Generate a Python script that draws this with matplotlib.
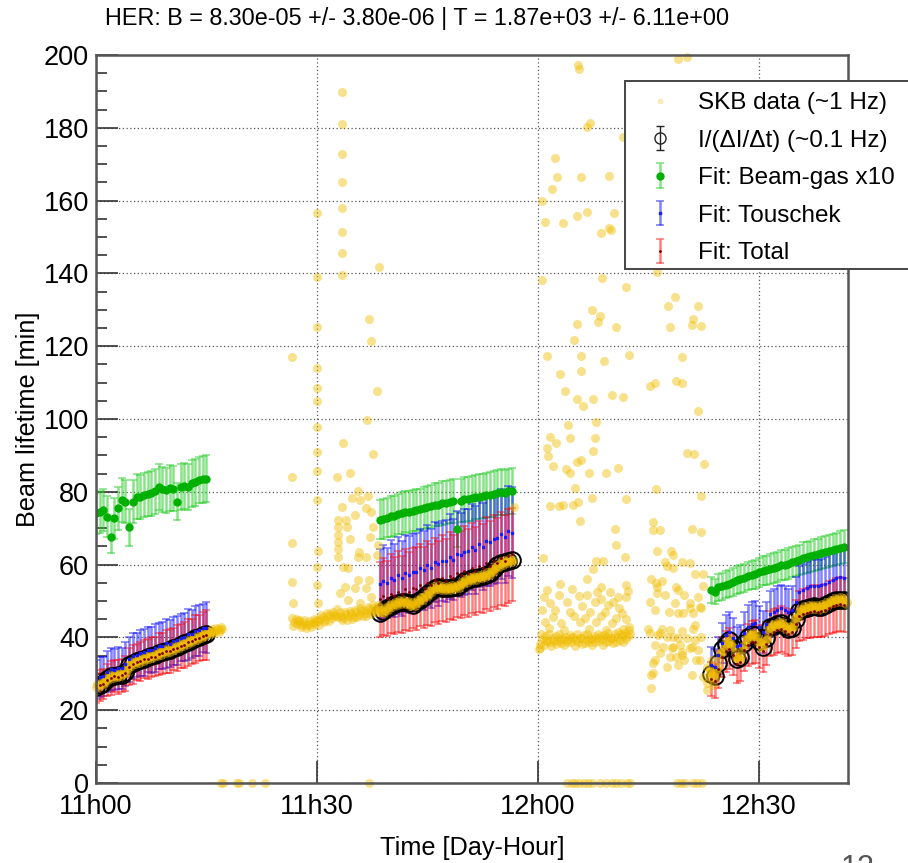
import numpy as np
import matplotlib
matplotlib.use("Agg")
import matplotlib.pyplot as plt
from matplotlib.ticker import MultipleLocator, FixedLocator
from matplotlib.lines import Line2D
from matplotlib.patches import Rectangle

plt.rcParams["font.family"] = ["Liberation Sans", "DejaVu Sans"]

# --- AXIS LABELS (time in minutes after 11h00) ---
tick_minutes = [0, 30, 60, 90]
tick_labels = ["11h00", "11h30", "12h00", "12h30"]
title = "HER: B = 8.30e-05 +/- 3.80e-06 | T = 1.87e+03 +/- 6.11e+00"

# --- FIT POINTS (three injection-free runs) ---
fit_time = [
    0.0, 0.5, 1.0, 1.5, 2.0, 2.5, 3.0, 3.5, 4.0, 4.5, 5.0, 5.5, 6.0, 6.5, 7.0, 7.5,
    8.0, 8.5, 9.0, 9.5, 10.0, 10.5, 11.0, 11.5, 12.0, 12.5, 13.0, 13.5, 14.0, 14.5, 15.0,
    38.5, 39.0, 39.5, 40.0, 40.5, 41.0, 41.5, 42.0, 42.5, 43.0, 43.5, 44.0, 44.5,
    45.0, 45.5, 46.0, 46.5, 47.0, 47.5, 48.0, 48.5, 49.0, 49.5, 50.0, 50.5, 51.0,
    51.5, 52.0, 52.5, 53.0, 53.5, 54.0, 54.5, 55.0, 55.5, 56.0, 56.5,
    83.5, 84.0, 84.5, 85.0, 85.5, 86.0, 86.5, 87.0, 87.5, 88.0, 88.5, 89.0, 89.5,
    90.0, 90.5, 91.0, 91.5, 92.0, 92.5, 93.0, 93.5, 94.0, 94.5, 95.0, 95.5, 96.0,
    96.5, 97.0, 97.5, 98.0, 98.5, 99.0, 99.5, 100.0, 100.5, 101.0, 101.5,
]

# I/(dI/dt) lifetime
decay_life = [
    26.5, 27.0, 27.6, 28.5, 29.3, 29.5, 29.6, 29.8, 30.6, 32.3, 33.0, 33.4, 33.8, 34.2, 34.5,
    34.8, 35.1, 35.6, 36.0, 36.4, 36.6, 37.1, 37.5, 37.9, 38.4, 38.8, 39.3, 39.7, 40.2, 40.6, 41.0,
    46.8, 47.2, 48.0, 48.6, 49.2, 49.5, 49.7, 49.8, 49.4, 48.9, 49.6, 50.3, 51.0, 51.8, 52.8,
    53.7, 53.9, 53.6, 53.5, 53.6, 53.8, 53.9, 54.6, 55.4, 55.9, 56.2, 56.4, 56.6, 56.9, 57.1,
    57.8, 58.7, 59.8, 60.4, 60.8, 61.1, 61.3,
    30.0, 29.4, 33.0, 36.8, 38.3, 39.3, 37.0, 34.2, 34.5, 38.5, 40.0, 40.8, 40.6, 39.0, 37.4,
    39.8, 42.9, 43.2, 43.6, 43.9, 43.2, 42.2, 42.6, 45.0, 47.3, 47.8, 48.1, 48.4, 48.5, 48.3,
    48.4, 48.9, 49.5, 50.0, 50.3, 50.4, 50.3,
]

beamgas_x10 = [
    74.1, 74.5, 75.0, 73.2, 67.7, 72.7, 75.5, 77.7, 77.3, 70.2, 77.3, 78.7, 78.5, 79.1, 79.4,
    79.6, 80.2, 81.4, 80.7, 80.4, 81.0, 80.8, 77.3, 81.4, 81.6, 81.4, 82.3, 82.6, 83.2, 83.4, 83.6,
    72.3, 72.6, 72.9, 73.3, 73.4, 73.9, 74.2, 74.5, 74.4, 74.8, 75.1, 75.2, 75.6, 75.9, 76.0,
    76.4, 76.5, 76.9, 77.0, 77.3, 77.4, 69.7, 77.6, 77.9, 78.0, 78.2, 78.5, 78.6, 78.8, 79.1,
    79.2, 79.5, 79.7, 79.9, 79.8, 80.1, 80.2,
    53.0, 52.6, 53.8, 54.0, 54.5, 54.8, 55.2, 55.8, 56.1, 56.4, 56.8, 57.1, 57.4, 57.9, 58.3,
    58.4, 58.8, 59.1, 59.3, 59.8, 59.9, 60.3, 60.7, 61.0, 61.3, 61.8, 62.0, 62.3, 62.6, 62.8,
    63.2, 63.4, 63.7, 64.0, 64.3, 64.6, 64.9,
]
beamgas_err = [
    5.6, 5.8, 5.9, 5.7, 4.4, 5.6, 5.9, 6.0, 6.0, 5.0, 6.0, 6.1, 6.0, 6.1, 6.1,
    6.2, 6.2, 6.3, 6.2, 6.2, 6.3, 6.2, 5.1, 6.3, 6.3, 6.3, 6.4, 6.4, 6.4, 6.5, 6.5,
    5.4, 5.5, 5.4, 5.6, 5.5, 5.6, 5.7, 5.6, 5.7, 5.7, 5.8, 5.7, 5.8, 5.8, 5.9,
    5.9, 5.8, 6.0, 5.9, 6.0, 6.0, 4.8, 6.0, 6.1, 6.0, 6.1, 6.1, 6.2, 6.1, 6.2,
    6.2, 6.3, 6.2, 6.3, 6.3, 6.3, 6.4,
    3.6, 3.5, 3.7, 3.7, 3.7, 3.8, 3.8, 3.8, 3.9, 3.9, 3.9, 3.9, 4.0, 4.0, 4.0,
    4.0, 4.1, 4.1, 4.1, 4.1, 4.1, 4.2, 4.2, 4.2, 4.2, 4.3, 4.3, 4.3, 4.3, 4.3,
    4.4, 4.4, 4.4, 4.4, 4.5, 4.5, 4.5,
]

touschek = [
    28.4, 29.1, 29.3, 30.6, 31.2, 31.1, 31.6, 31.5, 32.7, 34.0, 34.9, 35.1, 35.8, 35.9, 36.6,
    36.5, 37.0, 37.6, 37.7, 38.4, 38.3, 39.1, 39.2, 39.9, 40.1, 40.8, 41.0, 41.7, 41.9, 42.6, 42.7,
    54.6, 55.4, 54.9, 56.3, 55.7, 57.1, 56.2, 57.6, 57.2, 58.0, 57.9, 59.1, 58.4, 59.8, 59.0,
    60.6, 60.1, 61.0, 60.9, 62.2, 61.4, 63.0, 62.7, 63.5, 63.6, 64.8, 64.0, 65.7, 64.9, 66.5,
    66.2, 67.0, 67.2, 68.4, 67.6, 69.3, 68.7,
    32.5, 32.0, 35.1, 38.5, 40.6, 41.4, 39.8, 37.6, 38.0, 41.3, 42.9, 43.8, 43.9, 42.8, 41.5,
    43.6, 46.4, 47.0, 47.6, 48.0, 47.6, 46.9, 47.5, 49.8, 52.4, 53.1, 53.6, 54.0, 54.2, 54.1,
    54.3, 54.8, 55.3, 55.9, 56.2, 56.5, 56.4,
]
touschek_err = [
    5.3, 5.5, 5.4, 5.7, 5.9, 5.6, 5.8, 5.7, 6.0, 6.2, 6.4, 6.1, 6.3, 6.5, 6.2,
    6.4, 6.6, 6.3, 6.5, 6.7, 6.4, 6.6, 6.8, 6.5, 6.7, 6.9, 6.6, 6.8, 7.0, 6.7, 6.9,
    9.8, 10.1, 9.7, 10.4, 10.0, 10.6, 10.2, 10.5, 10.6, 10.3, 10.9, 10.7, 10.8, 11.2, 10.8,
    11.0, 11.4, 11.1, 11.3, 11.6, 11.2, 11.7, 11.5, 11.9, 11.6, 11.8, 12.1, 11.9, 12.0, 12.3,
    12.0, 12.4, 12.2, 12.3, 12.6, 12.4, 12.5,
    4.8, 4.7, 5.1, 5.4, 5.6, 5.7, 5.5, 5.3, 5.3, 5.7, 5.9, 6.0, 6.0, 5.9, 5.8,
    6.0, 6.3, 6.4, 6.5, 6.5, 6.5, 6.4, 6.5, 6.8, 7.1, 7.2, 7.2, 7.3, 7.3, 7.3,
    7.3, 7.4, 7.5, 7.5, 7.6, 7.6, 7.6,
]

total = [
    26.1, 26.8, 27.2, 28.3, 28.9, 29.3, 29.2, 29.6, 30.2, 32.0, 32.6, 33.2, 33.4, 34.0, 34.1,
    34.6, 34.7, 35.4, 35.6, 36.2, 36.2, 36.9, 37.1, 37.7, 38.0, 38.6, 38.9, 39.5, 39.8, 40.4, 40.6,
    50.5, 51.3, 50.7, 52.0, 51.5, 52.6, 51.9, 53.2, 52.6, 53.5, 53.4, 54.4, 53.7, 55.0, 54.3,
    55.7, 55.0, 56.3, 55.6, 57.0, 56.4, 57.6, 57.2, 58.3, 57.7, 59.0, 58.3, 59.6, 59.0, 60.4,
    59.7, 61.0, 60.4, 61.7, 61.1, 62.4, 62.8,
    28.6, 28.0, 31.2, 34.6, 36.2, 36.9, 35.2, 32.8, 33.3, 36.5, 38.0, 38.7, 38.8, 37.5, 36.3,
    38.3, 41.0, 41.5, 41.9, 42.3, 41.8, 41.0, 41.5, 43.6, 45.8, 46.3, 46.7, 47.0, 47.2, 47.1,
    47.3, 47.6, 48.1, 48.6, 48.9, 49.1, 49.0,
]
total_err = [
    4.1, 4.3, 4.2, 4.5, 4.6, 4.4, 4.7, 4.6, 4.8, 5.1, 5.3, 5.0, 5.4, 5.2, 5.5,
    5.6, 5.4, 5.8, 5.6, 5.9, 6.0, 5.8, 6.2, 6.0, 6.3, 6.4, 6.2, 6.6, 6.4, 6.7, 6.8,
    10.3, 10.6, 10.2, 10.8, 10.5, 11.0, 10.6, 11.1, 10.9, 11.0, 11.3, 11.2, 11.1, 11.5, 11.3,
    11.6, 11.4, 11.8, 11.5, 11.9, 11.7, 12.1, 11.9, 12.2, 12.0, 12.3, 12.1, 12.5, 12.2, 12.6,
    12.4, 12.7, 12.5, 12.8, 12.6, 12.9, 12.8,
    4.7, 4.6, 5.0, 5.4, 5.6, 5.7, 5.5, 5.2, 5.3, 5.6, 5.8, 5.9, 5.9, 5.8, 5.7,
    5.9, 6.2, 6.3, 6.3, 6.4, 6.3, 6.2, 6.3, 6.6, 6.9, 7.0, 7.0, 7.1, 7.1, 7.1,
    7.1, 7.2, 7.3, 7.3, 7.4, 7.4, 7.4,
]

# --- SKB 1 Hz lifetime readings ---
skb_time_run1 = [
    0.0, 0.3, 0.6, 0.9, 1.2, 1.5, 1.8, 2.1, 2.4, 2.7,
    3.0, 3.3, 3.6, 3.9, 4.2, 4.5, 4.8, 5.1, 5.4, 5.7,
    6.0, 6.3, 6.6, 6.9, 7.2, 7.5, 7.8, 8.1, 8.4, 8.7,
    9.0, 9.3, 9.6, 9.9, 10.2, 10.5, 10.8, 11.1, 11.4, 11.7,
    12.0, 12.3, 12.6, 12.9, 13.2, 13.5, 13.8, 14.1, 14.4, 14.7,
    15.0, 15.3, 15.6, 15.9, 16.2, 16.5, 16.8, 17.1,
    0.15, 0.45, 0.75, 1.05, 1.35, 1.65, 1.95, 2.25, 2.55, 2.85,
    3.15, 3.45, 3.75, 4.05, 4.35, 4.65, 4.95, 5.25, 5.55, 5.85,
    6.15, 6.45, 6.75, 7.05, 7.35, 7.65, 7.95, 8.25, 8.55, 8.85,
    9.15, 9.45, 9.75, 10.05, 10.35, 10.65, 10.95, 11.25, 11.55, 11.85,
    12.15, 12.45, 12.75, 13.05, 13.35, 13.65, 13.95, 14.25, 14.55, 14.85,
    15.15, 15.45, 15.75, 16.05, 16.35, 16.65, 16.95,
]
skb_life_run1 = [
    26.3, 26.9, 27.1, 27.6, 27.9, 28.7, 29.0, 29.5, 29.4, 29.7,
    29.5, 29.9, 29.9, 30.5, 31.3, 32.4, 32.7, 33.2, 33.3, 33.7,
    33.7, 34.1, 34.2, 34.6, 34.5, 34.9, 34.9, 35.3, 35.4, 35.9,
    35.9, 36.3, 36.4, 36.7, 36.7, 37.2, 37.2, 37.7, 37.7, 38.2,
    38.3, 38.7, 38.8, 39.3, 39.4, 39.8, 39.9, 40.4, 40.4, 40.9,
    40.9, 41.4, 41.4, 41.8, 41.8, 42.2, 42.1, 42.4,
    27.2, 26.4, 28.0, 27.2, 28.9, 28.3, 29.9, 28.9, 30.2, 29.0,
    30.3, 29.3, 30.8, 30.3, 32.5, 32.0, 33.6, 32.7, 34.1, 33.1,
    34.5, 33.6, 35.0, 34.0, 35.3, 34.3, 35.7, 34.8, 36.3, 35.3,
    36.7, 35.8, 37.2, 36.1, 37.6, 36.6, 38.1, 37.1, 38.6, 37.6,
    39.1, 38.2, 39.7, 38.8, 40.2, 39.3, 40.8, 39.8, 41.3, 40.3,
    41.8, 40.8, 42.2, 41.2, 42.6, 41.6, 42.9,
]

skb_time_gap1 = [
    17.0, 17.2, 19.2, 19.4, 21.2, 22.9,
    26.6, 26.6, 26.6, 26.6, 26.8, 30.0, 30.0, 30.0, 30.0, 30.0,
    30.0, 30.0, 30.0, 30.0, 30.0, 30.2, 30.0, 30.0, 30.2, 33.4,
    33.4, 33.4, 33.4, 33.4, 33.4, 33.4, 33.4, 38.4, 37.1, 37.3,
    38.1, 36.8, 33.5, 37.6, 32.7, 34.5, 35.6, 34.8, 35.9, 36.9,
    36.7, 33.4, 35.2, 37.4, 32.9, 32.9, 32.9, 32.9, 32.9, 32.9,
    34.0, 34.1, 37.6, 37.2, 34.5, 38.3, 35.7, 35.6, 36.7, 38.1,
    33.6, 34.2, 33.8, 35.6, 37.0, 35.2, 33.1, 36.7, 34.2, 37.4,
    35.8, 37.1, 56.7,
    26.6, 26.9, 27.3, 27.6, 28.0, 28.3, 28.7, 29.0, 29.4, 29.7,
    30.1, 30.4, 30.8, 31.1, 31.5, 31.8, 32.2, 32.5, 32.9, 33.2,
    33.6, 33.9, 34.3, 34.6, 35.0, 35.3, 35.7, 36.0, 36.4, 36.7,
    37.1, 37.4, 37.8, 38.1, 38.4,
    26.8, 27.1, 27.5, 27.8, 28.2, 28.5, 28.9, 29.2, 29.6, 29.9,
    30.3, 30.6, 31.0, 31.3, 31.7, 32.0, 32.4, 32.7, 33.1, 33.4,
    33.8, 34.1, 34.5, 34.8, 35.2, 35.5, 35.9, 36.2, 36.6, 36.9,
    37.3, 37.6, 38.0, 38.3,
]
skb_life_gap1 = [
    0.0, 0.0, 0.0, 0.0, 0.0, 0.0,
    116.9, 84.0, 65.8, 55.1, 49.4, 156.7, 138.9, 125.2, 114.1, 108.4,
    104.9, 97.7, 91.0, 85.8, 77.7, 63.8, 59.4, 54.4, 49.4, 189.9,
    181.0, 172.8, 165.2, 158.1, 151.4, 145.5, 139.6, 141.8, 127.6, 121.5,
    107.8, 99.7, 93.3, 90.4, 84.2, 85.1, 80.3, 78.2, 77.7, 78.8,
    75.5, 75.7, 73.6, 74.5, 72.3, 70.3, 68.2, 66.2, 64.2, 62.2,
    72.3, 70.4, 70.4, 67.7, 66.9, 65.4, 63.5, 62.0, 62.0, 62.6,
    59.4, 59.0, 53.9, 55.8, 55.8, 53.5, 52.1, 53.5, 50.3, 51.2,
    49.4, 0.0, 75.9,
    45.2, 44.3, 43.6, 44.6, 43.4, 44.0, 43.3, 43.8, 44.2, 43.6,
    44.5, 45.0, 45.5, 44.8, 45.9, 46.4, 47.0, 46.2, 45.6, 46.0,
    45.4, 46.3, 45.8, 46.6, 45.7, 46.9, 46.2, 47.3, 47.6, 46.8,
    47.9, 47.2, 48.0, 47.5, 48.3,
    43.1, 45.0, 44.9, 42.9, 44.8, 42.7, 44.5, 42.9, 45.1, 44.9,
    43.3, 46.1, 44.2, 46.6, 44.6, 45.3, 45.8, 47.8, 46.9, 44.9,
    47.0, 44.8, 47.3, 45.1, 47.5, 45.5, 48.0, 46.0, 45.9, 48.4,
    46.5, 48.9, 46.9, 49.0,
]

skb_time_run2 = [
    38.6, 38.9, 39.2, 39.5, 39.8, 40.1, 40.4, 40.7, 41.0, 41.3,
    41.6, 41.9, 42.2, 42.5, 42.8, 43.1, 43.4, 43.7, 44.0, 44.3,
    44.6, 44.9, 45.2, 45.5, 45.8, 46.1, 46.4, 46.7, 47.0, 47.3,
    47.6, 47.9, 48.2, 48.5, 48.8, 49.1, 49.4, 49.7, 50.0, 50.3,
    50.6, 50.9, 51.2, 51.5, 51.8, 52.1, 52.4, 52.7, 53.0, 53.3,
    53.6, 53.9, 54.2, 54.5, 54.8, 55.1, 55.4, 55.7, 56.0, 56.3,
    56.6,
    38.75, 39.05, 39.35, 39.65, 39.95, 40.25, 40.55, 40.85, 41.15, 41.45,
    41.75, 42.05, 42.35, 42.65, 42.95, 43.25, 43.55, 43.85, 44.15, 44.45,
    44.75, 45.05, 45.35, 45.65, 45.95, 46.25, 46.55, 46.85, 47.15, 47.45,
    47.75, 48.05, 48.35, 48.65, 48.95, 49.25, 49.55, 49.85, 50.15, 50.45,
    50.75, 51.05, 51.35, 51.65, 51.95, 52.25, 52.55, 52.85, 53.15, 53.45,
    53.75, 54.05, 54.35, 54.65, 54.95, 55.25, 55.55, 55.85, 56.15, 56.45,
]
skb_life_run2 = [
    46.9, 47.1, 47.6, 48.1, 48.3, 48.8, 49.1, 49.3, 49.6, 49.6,
    49.8, 49.7, 49.6, 49.3, 49.0, 49.0, 49.4, 49.9, 50.4, 50.7,
    51.2, 51.6, 52.2, 52.9, 53.4, 53.8, 53.9, 53.7, 53.5, 53.6,
    53.4, 53.7, 53.6, 53.9, 53.8, 54.1, 54.5, 55.0, 55.3, 55.8,
    55.9, 56.2, 56.3, 56.5, 56.5, 56.7, 56.8, 57.0, 57.1, 57.5,
    58.0, 58.6, 59.2, 59.7, 60.2, 60.5, 60.7, 60.9, 61.1, 61.2,
    61.4,
    47.6, 46.7, 48.4, 47.6, 49.2, 48.3, 49.8, 48.8, 50.2, 49.1,
    50.3, 49.1, 50.0, 48.6, 49.6, 48.6, 50.2, 49.6, 51.1, 50.4,
    52.0, 51.3, 53.1, 52.6, 54.2, 53.3, 54.4, 53.0, 54.1, 52.9,
    54.1, 53.1, 54.3, 53.3, 54.5, 53.7, 55.3, 54.6, 56.1, 55.3,
    56.6, 55.7, 57.0, 55.9, 57.2, 56.2, 57.5, 56.5, 57.9, 57.2,
    58.9, 58.3, 60.0, 59.4, 60.9, 60.0, 61.4, 60.4, 61.7, 60.7,
]

skb_time_gap2 = [
    60.2, 60.3,
    60.3, 60.6, 61.0, 61.3, 61.7, 62.0, 62.4, 62.7, 63.1, 63.4,
    63.8, 64.1, 64.5, 64.8, 65.2, 65.5, 65.9, 66.2, 66.6, 66.9,
    67.3, 67.6, 68.0, 68.3, 68.7, 69.0, 69.4, 69.7, 70.1, 70.4,
    70.8, 71.1, 71.5, 71.8, 72.2, 72.5,
    60.4, 60.8, 61.1, 61.5, 61.8, 62.2, 62.5, 62.9, 63.2, 63.6,
    63.9, 64.3, 64.6, 65.0, 65.3, 65.7, 66.0, 66.4, 66.7, 67.1,
    67.4, 67.8, 68.1, 68.5, 68.8, 69.2, 69.5, 69.9, 70.2, 70.6,
    70.9, 71.3, 71.6, 72.0, 72.3,
    65.5, 65.6, 67.1, 66.6, 79.0, 80.2, 62.3, 62.6, 65.8, 61.9,
    69.6, 71.5, 60.6, 61.0, 63.4, 65.3, 66.7, 70.3, 68.5, 69.6,
    69.9, 60.5, 68.7, 72.0, 78.6, 77.7, 81.7, 67.3, 68.4, 68.2,
    81.1, 65.3, 70.6, 77.9, 80.9, 82.1, 64.9, 61.3, 65.8, 69.0,
    72.4, 79.5, 63.0, 65.9, 63.7, 75.2, 75.9, 78.8, 79.5, 65.3,
    67.5, 66.1, 70.0, 71.5, 81.8, 64.1, 67.9, 61.6, 64.3, 67.7,
    76.1, 62.4, 61.2, 61.4, 67.5, 80.2, 81.2, 82.5, 62.0, 65.3,
    65.8, 63.8, 64.3, 67.0, 69.2, 70.9, 65.0, 76.0, 67.4, 71.9,
    82.1, 61.7, 62.8, 63.4, 64.7, 65.5, 65.7, 75.6, 75.6, 76.6,
    80.9, 82.2, 70.5, 70.6, 76.2, 78.1, 71.8, 60.7, 67.9, 68.9,
    77.2, 78.4, 79.5, 80.6, 77.5, 78.4, 67.5, 81.3, 82.4, 66.7,
    75.4, 76.0, 76.9, 68.6, 71.9, 78.8, 82.4, 60.8, 62.9, 65.6,
    66.6, 68.6, 69.8, 70.9, 72.0, 76.1, 77.2, 79.0, 79.9, 81.8,
    61.6, 63.9, 67.7, 70.2, 75.2, 78.6, 80.6, 60.5, 62.3, 64.3,
    67.1, 69.1, 71.4, 75.9, 77.8, 79.7, 82.2, 60.9, 63.2, 65.7,
    67.9, 70.0, 71.9, 81.3, 61.2, 63.0, 64.6, 66.0, 68.0, 69.5,
    71.0, 72.2, 62.0, 64.9, 66.4, 68.6, 70.6, 72.3, 61.5, 63.6,
    66.9, 69.3, 71.6, 76.1, 82.0, 80.6, 79.0, 81.1, 75.2, 76.6,
    78.4, 80.2, 82.2, 75.9, 77.0, 78.2, 79.3, 80.9, 76.6, 77.9,
    79.5, 81.8, 75.6, 77.5, 79.0, 80.9, 75.4, 75.4, 82.9, 83.3,
    83.6, 76.3, 75.9, 75.6, 78.8, 79.8, 81.5, 78.4, 79.5, 80.6,
    82.0, 82.4, 82.9, 83.3, 77.5, 79.0, 81.3, 75.0, 76.8, 78.0,
    79.6, 81.0, 83.0, 83.8,
    63.9, 64.6, 65.1, 65.6, 66.3, 66.8, 67.4, 68.4, 69.3, 70.0,
    70.6, 71.3, 72.1, 72.5, 78.9, 79.4, 80.0, 81.0, 81.6, 82.3,
]
skb_life_gap2 = [
    36.8, 37.2,
    38.2, 39.6, 40.3, 39.1, 38.6, 39.8, 40.5, 39.0, 38.4, 39.5,
    40.2, 39.3, 38.8, 40.0, 39.4, 38.6, 39.9, 40.6, 39.2, 38.7,
    39.6, 40.4, 39.8, 38.9, 39.5, 40.7, 40.1, 39.0, 39.7, 40.9,
    40.2, 39.4, 40.3, 41.2, 40.5, 40.8,
    40.9, 37.9, 39.0, 40.8, 37.6, 38.9, 38.1, 40.9, 39.8, 37.8,
    38.6, 40.7, 39.9, 37.7, 40.9, 39.7, 38.1, 38.4, 40.8, 39.8,
    37.9, 38.6, 41.0, 40.3, 37.9, 38.8, 41.2, 39.9, 38.4, 38.6,
    41.5, 40.8, 38.8, 39.6, 42.0,
    197.3, 196.1, 181.2, 180.1, 198.8, 199.5, 171.6, 166.6, 166.6, 163.2,
    166.8, 177.6, 160.0, 154.2, 153.8, 155.9, 156.8, 156.5, 151.2, 152.4,
    151.9, 138.2, 138.7, 136.4, 133.6, 131.1, 131.1, 129.9, 128.3, 126.7,
    127.4, 126.1, 125.2, 125.2, 125.8, 125.5, 121.7, 117.3, 117.3, 115.9,
    117.6, 116.9, 112.3, 113.2, 107.8, 109.1, 110.0, 110.4, 109.8, 105.4,
    105.4, 103.6, 106.6, 106.0, 102.2, 98.4, 99.3, 95.0, 94.7, 94.7,
    140.5, 93.5, 91.9, 89.8, 91.2, 90.7, 90.4, 87.6, 87.1, 88.3,
    88.7, 86.2, 85.1, 85.1, 85.1, 86.5, 81.0, 80.7, 78.2, 77.9,
    78.8, 76.1, 76.1, 76.4, 76.4, 77.3, 72.1, 71.8, 69.5, 69.5,
    69.7, 69.0, 69.7, 65.4, 63.8, 63.8, 62.2, 61.7, 61.1, 61.1,
    60.8, 62.6, 60.8, 60.5, 59.6, 59.0, 58.7, 57.4, 57.4, 56.0,
    56.0, 54.9, 55.6, 53.9, 54.4, 53.9, 54.1, 51.2, 51.6, 51.4,
    51.6, 50.5, 52.6, 51.2, 51.2, 52.1, 51.6, 53.0, 51.6, 51.2,
    49.4, 49.8, 49.8, 49.8, 49.8, 49.5, 49.4, 47.5, 47.5, 47.1,
    47.1, 47.1, 46.6, 47.5, 47.1, 46.6, 48.0, 44.3, 43.9, 44.3,
    44.3, 43.9, 45.0, 43.4, 53.0, 54.6, 53.2, 48.5, 52.4, 49.0,
    48.2, 52.8, 45.6, 46.0, 45.4, 45.8, 45.2, 42.8, 42.6, 41.9,
    42.4, 42.0, 42.2, 53.9, 48.4, 48.0, 46.6, 46.6, 41.1, 41.1,
    40.2, 39.7, 40.2, 37.9, 37.4, 37.0, 37.9, 37.4, 35.6, 34.7,
    35.2, 36.5, 32.9, 32.0, 32.4, 29.7, 29.7, 26.0, 32.0, 29.2,
    33.8, 40.7, 33.8, 30.1, 34.7, 33.8, 33.8, 37.4, 36.1, 37.0,
    33.8, 29.2, 27.4, 31.0, 40.2, 39.7, 39.3, 42.2, 42.4, 42.0,
    41.8, 42.3, 25.5, 27.0,
    0.0, 0.0, 0.0, 0.0, 0.0, 0.0, 0.0, 0.0, 0.0, 0.0,
    0.0, 0.0, 0.0, 0.0, 0.0, 0.0, 0.0, 0.0, 0.0, 0.0,
]

skb_time_run3 = [
    83.4, 83.7, 84.0, 84.3, 84.6, 84.9, 85.2, 85.5, 85.8, 86.1,
    86.4, 86.7, 87.0, 87.3, 87.6, 87.9, 88.2, 88.5, 88.8, 89.1,
    89.4, 89.7, 90.0, 90.3, 90.6, 90.9, 91.2, 91.5, 91.8, 92.1,
    92.4, 92.7, 93.0, 93.3, 93.6, 93.9, 94.2, 94.5, 94.8, 95.1,
    95.4, 95.7, 96.0, 96.3, 96.6, 96.9, 97.2, 97.5, 97.8, 98.1,
    98.4, 98.7, 99.0, 99.3, 99.6, 99.9, 100.2, 100.5, 100.8, 101.1,
    101.4, 101.7, 102.0,
    83.55, 83.85, 84.15, 84.45, 84.75, 85.05, 85.35, 85.65, 85.95, 86.25,
    86.55, 86.85, 87.15, 87.45, 87.75, 88.05, 88.35, 88.65, 88.95, 89.25,
    89.55, 89.85, 90.15, 90.45, 90.75, 91.05, 91.35, 91.65, 91.95, 92.25,
    92.55, 92.85, 93.15, 93.45, 93.75, 94.05, 94.35, 94.65, 94.95, 95.25,
    95.55, 95.85, 96.15, 96.45, 96.75, 97.05, 97.35, 97.65, 97.95, 98.25,
    98.55, 98.85, 99.15, 99.45, 99.75, 100.05, 100.35, 100.65, 100.95, 101.25,
    101.55, 101.85,
]
skb_life_run3 = [
    30.5, 29.6, 29.2, 31.4, 33.8, 36.0, 37.4, 38.2, 39.0, 39.2,
    37.6, 35.8, 34.3, 34.0, 35.0, 37.6, 39.2, 40.0, 40.6, 40.9,
    40.7, 39.8, 38.8, 37.6, 37.6, 39.2, 41.2, 42.8, 43.1, 43.3,
    43.5, 43.7, 43.9, 43.5, 42.9, 42.3, 42.2, 42.7, 44.0, 45.5,
    46.9, 47.5, 47.8, 48.0, 48.2, 48.4, 48.5, 48.4, 48.3, 48.3,
    48.4, 48.6, 48.9, 49.3, 49.7, 50.0, 50.2, 50.3, 50.5, 50.4,
    50.2, 50.0, 49.6,
    30.6, 28.8, 30.9, 32.0, 35.5, 36.1, 38.4, 38.0, 39.7, 37.8,
    37.3, 34.4, 34.7, 33.9, 36.9, 37.8, 40.2, 39.7, 41.3, 40.2,
    40.8, 38.7, 38.8, 37.0, 39.0, 39.6, 42.6, 42.4, 43.8, 42.8,
    44.2, 43.2, 44.3, 42.6, 43.2, 41.7, 43.0, 42.8, 45.3, 45.6,
    47.8, 47.0, 48.5, 47.5, 48.9, 47.9, 49.0, 47.8, 48.9, 47.8,
    49.1, 48.2, 49.7, 48.9, 50.4, 49.5, 50.8, 49.8, 51.0, 49.7,
    50.7, 49.2,
]

skb_time = skb_time_run1 + skb_time_gap1 + skb_time_run2 + skb_time_gap2 + skb_time_run3
skb_life = skb_life_run1 + skb_life_gap1 + skb_life_run2 + skb_life_gap2 + skb_life_run3

# --- FIGURE ---
fig = plt.figure(figsize=(9.08, 8.63), dpi=100)
ax = fig.add_axes([96 / 908, 1 - 783 / 863, 752 / 908, 728 / 863])

bar_kw = dict(linestyle="none", capsize=3, elinewidth=1.8, capthick=1.2)
h_bg = ax.errorbar(fit_time, beamgas_x10, yerr=beamgas_err, fmt="o", ms=5,
                   color="#00b000", ecolor=(0.15, 0.8, 0.15, 0.55), **bar_kw)
h_tou = ax.errorbar(fit_time, touschek, yerr=touschek_err, fmt="s", ms=2,
                    color="#1a1aff", ecolor=(0.0, 0.0, 1.0, 0.5), **bar_kw)
h_tot = ax.errorbar(fit_time, total, yerr=total_err, fmt=".", ms=2,
                    color="#800000", ecolor=(1.0, 0.0, 0.0, 0.5), **bar_kw)
ax.plot(fit_time, decay_life, "o", ms=12, mfc="none", mec="black", mew=1.4)
ax.plot(skb_time, skb_life, "o", ls="none", ms=6.5, color="#f0bd00",
        alpha=0.45, mew=0, clip_on=False)

# legend proxies
h_skb = Line2D([], [], marker="o", ls="none", ms=4, color="#f0bd00", alpha=0.3, mew=0)
h_decay = ax.errorbar([np.nan], [np.nan], yerr=[1.0], fmt="o", ms=8, mfc="none",
                      mec="#222222", color="#222222", capsize=3, elinewidth=1.0)

ax.set_xlim(0, 102.1)
ax.set_ylim(0, 200)
ax.xaxis.set_major_locator(FixedLocator(tick_minutes))
ax.set_xticklabels(tick_labels)
ax.yaxis.set_major_locator(MultipleLocator(20))
ax.yaxis.set_minor_locator(MultipleLocator(5))
ax.tick_params(axis="both", which="both", direction="in", color="#333333", width=1.2)
ax.tick_params(axis="y", which="major", length=16, labelsize=19.5, pad=5)
ax.tick_params(axis="y", which="minor", length=8)
ax.tick_params(axis="x", which="major", length=16, labelsize=19.5, pad=8)
ax.grid(True, which="major", color="#555555", ls=(0, (1, 2)), lw=0.9)
ax.set_axisbelow(True)
for sp in ax.spines.values():
    sp.set_color("#555555")
    sp.set_linewidth(1.8)

ax.set_ylabel("Beam lifetime [min]", fontsize=18.2)
ax.yaxis.set_label_coords(-0.075, 0.5)
ax.set_xlabel("Time [Day-Hour]", fontsize=18.2)
ax.xaxis.set_label_coords(0.5, -0.073)

fig.text(417 / 908, 1 - 18 / 863, title, ha="center", va="center", fontsize=16.8)

box = Rectangle((625 / 908, 1 - 269 / 863), 300 / 908, 188 / 863,
                transform=fig.transFigure, facecolor="white", edgecolor="#444444",
                lw=1.4, zorder=4)
fig.add_artist(box)
leg = fig.legend([h_skb, h_decay, h_bg, h_tou, h_tot],
                 ["SKB data (~1 Hz)", "I/(\u0394I/\u0394t) (~0.1 Hz)", "Fit: Beam-gas x10",
                  "Fit: Touschek", "Fit: Total"],
                 loc="upper left", bbox_to_anchor=(648 / 908, 1 - 92 / 863),
                 frameon=False, fontsize=17.5, handlelength=1.0, handletextpad=1.05,
                 labelspacing=0.64, borderpad=0, borderaxespad=0)
leg.set_zorder(5)

fig.text(858 / 908, 1 - 854 / 863, "12", ha="center", va="top", fontsize=22, color="#555555")

fig.savefig("out.png", dpi=100)
